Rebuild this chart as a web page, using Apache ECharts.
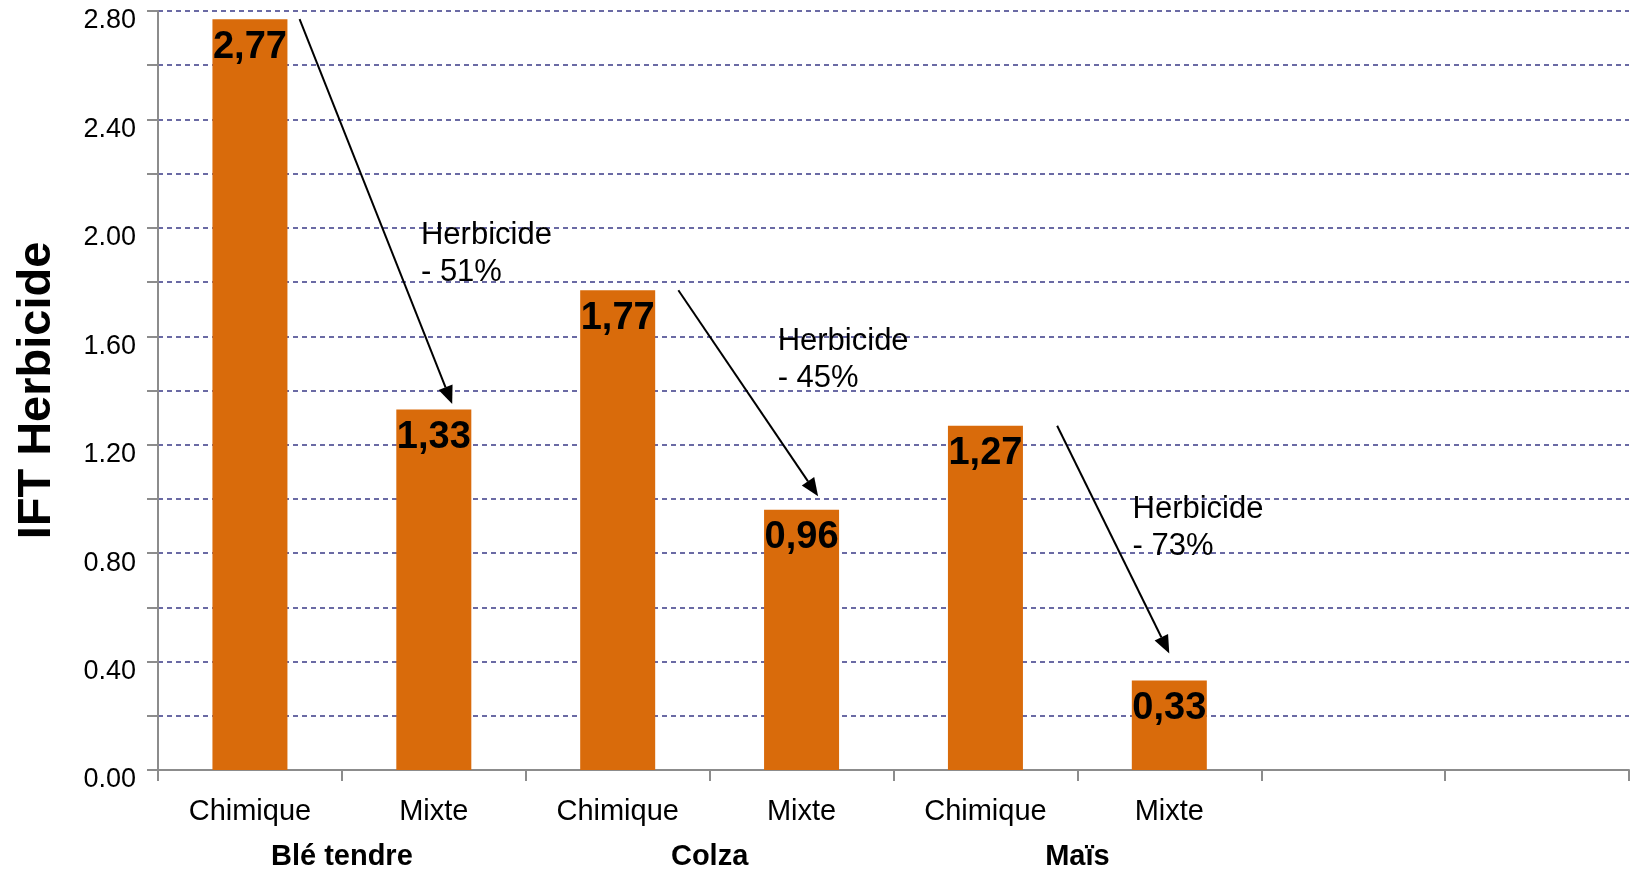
<!DOCTYPE html>
<html>
<head>
<meta charset="utf-8">
<script src="https://cdn.jsdelivr.net/npm/echarts@6/dist/echarts.min.js"></script>
<style>
  html, body { margin: 0; padding: 0; background: #fff; }
  #chart { width: 1632px; height: 872px; }
</style>
</head>
<body>
<div id="chart"></div>
<script>
// categories and values
var categories = ['Chimique', 'Mixte', 'Chimique', 'Mixte', 'Chimique', 'Mixte', '', '']
var groups = ['Blé tendre', 'Colza', 'Maïs', '']
var iftValues = [2.77, 1.33, 1.77, 0.96, 1.27, 0.33]

// arrows: from bar index, where they start and end (category units / axis values)
var arrowFrom = [0, 2, 4]
var arrowStartX = [0.27, 0.33, 0.39]
var arrowTipX = [1.10, 1.09, 1.00]
var arrowTipY = [1.35, 1.01, 0.43]
var arrowTextX = [0.93, 0.87, 0.80]
var arrowTextY = [2.04, 1.65, 1.03]
var arrowLabels = ['Herbicide\n- 51%', 'Herbicide\n- 45%', 'Herbicide\n- 73%']

var BAR_WIDTH = 75
var FONT = '"Liberation Sans", Arial, sans-serif'

var chart = echarts.init(document.getElementById('chart'))

var arrowData = arrowFrom.map(function (i, k) {
  return [i, iftValues[i], arrowTipY[k], arrowTextY[k]]
})

chart.setOption({
  animation: false,
  grid: {
    left: 158,
    right: 3,
    top: 11,
    bottom: 102
  },
  xAxis: [{
    type: 'category',
    data: categories,
    boundaryGap: true,
    axisLine: {
      lineStyle: { color: '#8c8c8c', width: 2 }
    },
    axisTick: {
      show: true,
      interval: 0,
      length: 11,
      lineStyle: { color: '#8c8c8c', width: 2 }
    },
    axisLabel: {
      interval: 0,
      margin: 27,
      color: '#000',
      fontFamily: FONT,
      fontSize: 29
    }
  }, {
    type: 'category',
    data: groups,
    position: 'bottom',
    boundaryGap: true,
    axisLine: { show: false },
    axisTick: { show: false },
    axisLabel: {
      interval: 0,
      margin: 72,
      color: '#000',
      fontFamily: FONT,
      fontWeight: 'bold',
      fontSize: 29
    }
  }],
  yAxis: {
    type: 'value',
    min: 0,
    max: 2.8,
    interval: 0.2,
    name: 'IFT Herbicide',
    nameLocation: 'middle',
    nameGap: 97,
    nameTextStyle: {
      color: '#000',
      fontFamily: FONT,
      fontWeight: 'bold',
      fontSize: 47
    },
    axisLine: {
      show: true,
      lineStyle: { color: '#8c8c8c', width: 2 }
    },
    axisTick: {
      show: true,
      length: 11,
      lineStyle: { color: '#8c8c8c', width: 2 }
    },
    axisLabel: {
      margin: 22,
      color: '#000',
      fontFamily: FONT,
      fontSize: 27,
      verticalAlign: 'top',
      lineHeight: 20,
      formatter: function (v) {
        return Math.round(v * 10) % 4 === 0 ? v.toFixed(2) : ''
      }
    },
    splitLine: {
      lineStyle: { color: '#6a6aa4', width: 2, type: [5, 4] }
    }
  },
  series: [{
    type: 'bar',
    data: iftValues,
    barWidth: BAR_WIDTH,
    itemStyle: { color: '#D96B0B' },
    label: {
      show: true,
      position: 'insideTop',
      distance: 9,
      color: '#000',
      fontFamily: FONT,
      fontWeight: 'bold',
      fontSize: 38,
      formatter: function (p) {
        return p.value.toFixed(2).replace('.', ',')
      }
    },
    z: 2
  }, {
    type: 'custom',
    data: arrowData,
    clip: false,
    z: 5,
    renderItem: function (params, api) {
      var k = params.dataIndex
      var step = api.size([1, 0])[0]
      var from = api.coord([api.value(0), api.value(1)])
      var to = api.coord([api.value(0), api.value(2)])
      var txt = api.coord([api.value(0), api.value(3)])
      var x1 = from[0] + arrowStartX[k] * step
      var y1 = from[1]
      var x2 = to[0] + arrowTipX[k] * step
      var y2 = to[1]
      var ang = Math.atan2(y2 - y1, x2 - x1)
      var len = 18
      var wid = 7.5
      var bx = x2 - len * Math.cos(ang)
      var by = y2 - len * Math.sin(ang)
      var p1 = [bx + wid * Math.sin(ang), by - wid * Math.cos(ang)]
      var p2 = [bx - wid * Math.sin(ang), by + wid * Math.cos(ang)]
      return {
        type: 'group',
        children: [{
          type: 'line',
          shape: { x1: x1, y1: y1, x2: bx, y2: by },
          style: { stroke: '#000', lineWidth: 2 }
        }, {
          type: 'polygon',
          shape: { points: [[x2, y2], p1, p2] },
          style: { fill: '#000' }
        }, {
          type: 'text',
          x: txt[0] + arrowTextX[k] * step,
          y: txt[1],
          style: {
            text: arrowLabels[k],
            fill: '#000',
            font: '31px ' + FONT,
            lineHeight: 37,
            verticalAlign: 'top'
          }
        }]
      }
    }
  }]
})
</script>
</body>
</html>
